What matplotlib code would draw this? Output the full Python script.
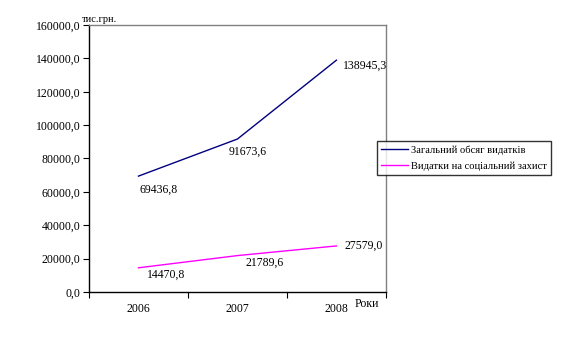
import numpy as np
import matplotlib
matplotlib.use('Agg')
import matplotlib.pyplot as plt

plt.rcParams['font.family'] = ['Liberation Serif', 'DejaVu Serif']

years = ['2006', '2007', '2008']
total = [69436.8, 91673.6, 138945.3]
social = [14470.8, 21789.6, 27579.0]
total_lbl = ['69436,8', '91673,6', '138945,3']
social_lbl = ['14470,8', '21789,6', '27579,0']

fig = plt.figure(figsize=(5.65, 3.53), dpi=100)
ax = fig.add_axes([0.1575, 0.173, 0.683 - 0.1575, 0.929 - 0.173])

x = np.arange(len(years))
ax.plot(x, total, color='#000080', lw=1, label='Загальний обсяг видатків')
ax.plot(x, social, color='#ff00ff', lw=1, label='Видатки на соціальний захист')

# value labels
off_t = [(1, -10), (-6, -9), (5, -4)]
for i in range(3):
    ax.annotate(total_lbl[i], (x[i], total[i]), xytext=off_t[i], textcoords='offset points',
                ha='left', va='center', fontsize=8.5)
off_s = [(6, -5), (6, -5), (6, 0)]
for i in range(3):
    ax.annotate(social_lbl[i], (x[i], social[i]), xytext=off_s[i], textcoords='offset points',
                ha='left', va='center', fontsize=8.5)

ax.set_xlim(-0.5, 2.5)
ax.set_ylim(0, 160000)
ax.set_yticks(np.arange(0, 160001, 20000))
ax.set_yticklabels([f'{v},0' for v in range(0, 160001, 20000)], fontsize=8.5)
ax.set_xticks([-0.5, 0.5, 1.5, 2.5])
ax.set_xticklabels([])
ax.set_xticks(x, minor=True)
ax.set_xticklabels(years, minor=True, fontsize=8.5)
ax.tick_params(axis='x', which='minor', length=0, pad=8)
ax.tick_params(axis='x', which='major', length=4, direction='out', color='black')
ax.tick_params(axis='y', length=4, direction='out', pad=2)

for s in ['top', 'right']:
    ax.spines[s].set_color('#808080')
    ax.spines[s].set_linewidth(1)
for s in ['left', 'bottom']:
    ax.spines[s].set_color('black')
    ax.spines[s].set_linewidth(1)

fig.text(82 / 565, 1 - 20 / 353, 'тис.грн.', fontsize=7.5, ha='left', va='center')
fig.text(355 / 565, 1 - 304 / 353, 'Роки', fontsize=8.5, ha='left', va='center')

leg = fig.legend(loc='upper left', bbox_to_anchor=(377 / 565, 1 - 141 / 353), fontsize=7.6,
                 frameon=True, fancybox=False, edgecolor='black', borderpad=0.4,
                 handlelength=2.5, handletextpad=0.3, labelspacing=0.6, borderaxespad=0)
leg.get_frame().set_linewidth(1)

fig.savefig('out.png', dpi=100)
